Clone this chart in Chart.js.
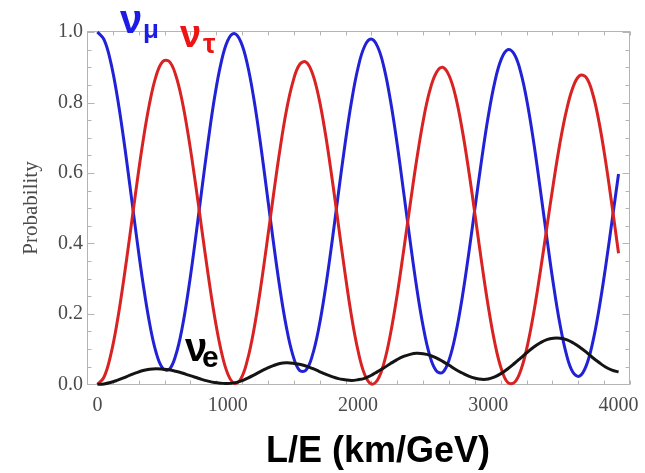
<!DOCTYPE html>
<html lang="en">
<head>
  <meta charset="UTF-8">
  <title>Neutrino oscillation probabilities</title>
  <script src="https://cdn.jsdelivr.net/npm/chart.js"></script>
  <style>
    body {
      margin: 0;
      background: #fff;
    }
    #wrap {
      position: relative;
      width: 645px;
      height: 473px;
    }
  </style>
</head>
<body>
  <div id="wrap"><canvas id="probChart"></canvas></div>

  <script>
    // L/E sample points (km/GeV)
    const LE = [0, 50, 100, 150, 200, 250, 300, 350, 400, 450, 500, 550, 600, 650, 700, 750, 800, 850, 900, 950,
      1000, 1050, 1100, 1150, 1200, 1250, 1300, 1350, 1400, 1450, 1500, 1550, 1600, 1650, 1700, 1750, 1800, 1850, 1900, 1950,
      2000, 2050, 2100, 2150, 2200, 2250, 2300, 2350, 2400, 2450, 2500, 2550, 2600, 2650, 2700, 2750, 2800, 2850, 2900, 2950,
      3000, 3050, 3100, 3150, 3200, 3250, 3300, 3350, 3400, 3450, 3500, 3550, 3600, 3650, 3700, 3750, 3800, 3850, 3900, 3950,
      4000];

    // nu_mu survival probability (blue)
    const numu = [1.000, 0.979, 0.918, 0.822, 0.700, 0.562, 0.420, 0.287, 0.174, 0.091, 0.046, 0.042, 0.081, 0.159, 0.271, 0.405, 0.549, 0.690, 0.816, 0.914,
      0.976, 0.996, 0.973, 0.910, 0.812, 0.688, 0.548, 0.406, 0.274, 0.163, 0.083, 0.040, 0.040, 0.082, 0.161, 0.271, 0.402, 0.543, 0.680, 0.802,
      0.898, 0.959, 0.980, 0.959, 0.899, 0.804, 0.684, 0.547, 0.408, 0.276, 0.165, 0.083, 0.039, 0.034, 0.070, 0.143, 0.246, 0.371, 0.506, 0.640,
      0.761, 0.858, 0.923, 0.950, 0.937, 0.885, 0.798, 0.684, 0.552, 0.415, 0.284, 0.171, 0.085, 0.034, 0.023, 0.051, 0.116, 0.213, 0.332, 0.464,
      0.597];

    // nu_tau appearance (red)
    const nutau = [0.000, 0.020, 0.080, 0.173, 0.292, 0.425, 0.562, 0.690, 0.797, 0.875, 0.916, 0.917, 0.879, 0.805, 0.701, 0.577, 0.443, 0.311, 0.191, 0.095,
      0.030, 0.003, 0.015, 0.067, 0.153, 0.267, 0.398, 0.534, 0.664, 0.776, 0.858, 0.907, 0.915, 0.883, 0.813, 0.711, 0.587, 0.452, 0.317, 0.194,
      0.096, 0.029, 0.001, 0.012, 0.061, 0.144, 0.252, 0.378, 0.509, 0.636, 0.747, 0.832, 0.884, 0.900, 0.876, 0.816, 0.723, 0.607, 0.477, 0.344,
      0.221, 0.118, 0.044, 0.005, 0.005, 0.040, 0.109, 0.205, 0.321, 0.446, 0.570, 0.684, 0.777, 0.843, 0.876, 0.872, 0.827, 0.745, 0.635, 0.507,
      0.372];

    // nu_e appearance (black)
    const nue = [0.000, 0.001, 0.005, 0.011, 0.018, 0.026, 0.033, 0.039, 0.043, 0.044, 0.043, 0.041, 0.037, 0.032, 0.026, 0.020, 0.014, 0.009, 0.005, 0.003,
      0.002, 0.004, 0.009, 0.017, 0.026, 0.036, 0.045, 0.053, 0.059, 0.061, 0.060, 0.057, 0.052, 0.045, 0.037, 0.029, 0.022, 0.016, 0.013, 0.011,
      0.013, 0.017, 0.025, 0.036, 0.047, 0.059, 0.070, 0.079, 0.085, 0.088, 0.087, 0.083, 0.075, 0.065, 0.054, 0.042, 0.032, 0.023, 0.017, 0.014,
      0.015, 0.021, 0.031, 0.044, 0.059, 0.075, 0.091, 0.106, 0.118, 0.127, 0.131, 0.131, 0.127, 0.118, 0.106, 0.092, 0.076, 0.062, 0.049, 0.040,
      0.035];

    // tick labels
    const xTickLabels = ['0', '1000', '2000', '3000', '4000'];
    const yTickLabels = ['0.0', '0.2', '0.4', '0.6', '0.8', '1.0'];
    const xTitle = 'L/E (km/GeV)';

    // curve labels, anchored in data coordinates
    const curveLabels = ['ν', 'ν', 'ν'];
    const curveSubs = ['μ', 'τ', 'e'];
    const labelX = [173, 633, 672];
    const labelY = [0.997, 0.9575, 0.065];

    const BLUE = '#2121d6';
    const RED = '#d92222';
    const BLACK = '#141414';

    const labelStyle = [
      { color: '#1c1ce6', size: 40, subSize: 26, dx: 23, dy: 5 },
      { color: '#ee1414', size: 38, subSize: 28, dx: 23, dy: 6 },
      { color: '#000000', size: 40, subSize: 30, dx: 17, dy: 6 }
    ];

    const toPoints = ys => LE.map((x, i) => ({ x, y: ys[i] }));

    // frame with inward ticks on all four sides (Mathematica style)
    const framePlugin = {
      id: 'frame',
      beforeDatasetsDraw(chart) {
        const { ctx, chartArea: a, scales: { x, y } } = chart;
        const L = Math.round(a.left) + 0.5, R = Math.round(a.right) - 0.5;
        const T = Math.round(a.top) + 0.5, B = Math.round(a.bottom) - 0.5;
        ctx.save();
        ctx.strokeStyle = '#b4b4b4';
        ctx.lineWidth = 1;
        ctx.strokeRect(L, T, R - L, B - T);
        ctx.beginPath();
        x.ticks.forEach(t => {
          const px = Math.round(x.getPixelForValue(t.value)) + 0.5;
          const len = Math.abs(t.value / 1000 - Math.round(t.value / 1000)) < 1e-6 ? 7 : 4;
          ctx.moveTo(px, B); ctx.lineTo(px, B - len);
          ctx.moveTo(px, T); ctx.lineTo(px, T + len);
        });
        y.ticks.forEach(t => {
          const py = Math.round(y.getPixelForValue(t.value)) + 0.5;
          const major = Math.abs(t.value * 5 - Math.round(t.value * 5)) < 1e-6;
          const len = major ? 7 : 4;
          ctx.moveTo(L, py); ctx.lineTo(L + len, py);
          ctx.moveTo(R, py); ctx.lineTo(R - len, py);
        });
        ctx.stroke();
        ctx.restore();
      }
    };

    // x tick labels, x title and the nu labels
    const labelPlugin = {
      id: 'curveLabels',
      afterDraw(chart) {
        const { ctx, chartArea: a, scales: { x, y } } = chart;
        ctx.save();

        ctx.fillStyle = '#4a4a4a';
        ctx.font = '20px "Liberation Serif", "Times New Roman", serif';
        ctx.textAlign = 'center';
        ctx.textBaseline = 'alphabetic';
        xTickLabels.forEach((lab, i) => {
          ctx.fillText(lab, x.getPixelForValue(i * 1000), a.bottom + 26);
        });

        ctx.fillStyle = '#000';
        ctx.font = 'bold 36px "Liberation Sans", Arial, sans-serif';
        ctx.fillText(xTitle, 378, 462);

        ctx.textAlign = 'left';
        curveLabels.forEach((txt, i) => {
          const s = labelStyle[i];
          const px = x.getPixelForValue(labelX[i]);
          const py = y.getPixelForValue(labelY[i]);
          ctx.fillStyle = s.color;
          ctx.font = `bold ${s.size}px "Liberation Sans", Arial, sans-serif`;
          ctx.fillText(txt, px, py);
          ctx.font = `bold ${s.subSize}px "Liberation Sans", Arial, sans-serif`;
          ctx.fillText(curveSubs[i], px + s.dx, py + s.dy);
        });
        ctx.restore();
      }
    };

    const tickFont = { family: '"Liberation Serif", "Times New Roman", serif', size: 20 };

    new Chart(document.getElementById('probChart'), {
      type: 'line',
      data: {
        datasets: [
          { label: 'nu_e', data: toPoints(nue), borderColor: BLACK },
          { label: 'nu_tau', data: toPoints(nutau), borderColor: RED },
          { label: 'nu_mu', data: toPoints(numu), borderColor: BLUE }
        ].map(d => Object.assign(d, {
          borderWidth: 3,
          pointRadius: 0,
          fill: false,
          tension: 0.4,
          clip: false
        }))
      },
      options: {
        responsive: true,
        maintainAspectRatio: false,
        animation: false,
        events: [],
        layout: { padding: { top: 31, right: 15, left: 0, bottom: 0 } },
        plugins: {
          legend: { display: false },
          tooltip: { enabled: false }
        },
        scales: {
          x: {
            type: 'linear',
            min: -80,
            max: 4088,
            afterFit: s => { s.height = 88; },
            grid: { display: false, drawTicks: false },
            border: { display: false },
            ticks: {
              stepSize: 200,
              includeBounds: false,
              autoSkip: false,
              maxRotation: 0,
              display: false
            },
            title: { display: false }
          },
          y: {
            min: -0.002,
            max: 1.003,
            afterFit: s => { s.width = 87; },
            grid: { display: false, drawTicks: false },
            border: { display: false },
            ticks: {
              stepSize: 0.05,
              includeBounds: false,
              autoSkip: false,
              padding: 4,
              color: '#4a4a4a',
              font: tickFont,
              callback: v => {
                const k = Math.round(v * 5);
                return Math.abs(v * 5 - k) < 1e-6 ? yTickLabels[k] : '';
              }
            },
            title: {
              display: true,
              text: 'Probability',
              color: '#4a4a4a',
              font: { family: '"Liberation Serif", "Times New Roman", serif', size: 21 },
              padding: { top: 19, bottom: 0 }
            }
          }
        }
      },
      plugins: [framePlugin, labelPlugin]
    });
  </script>
</body>
</html>
